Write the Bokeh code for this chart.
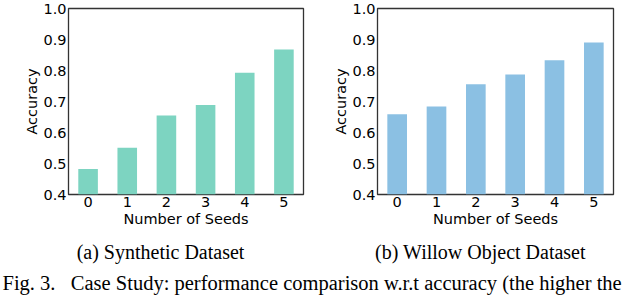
from bokeh.plotting import figure
from bokeh.models import FixedTicker, Range1d, CustomJSTickFormatter, Label
from bokeh.layouts import column, row
from bokeh.embed import file_html
from bokeh.resources import INLINE

seeds = [0, 1, 2, 3, 4, 5]
synthetic_acc = [0.482, 0.551, 0.655, 0.689, 0.793, 0.868]
willow_acc = [0.659, 0.684, 0.756, 0.787, 0.833, 0.890]
y_ticks = [0.4, 0.5, 0.6, 0.7, 0.8, 0.9, 1.0]
x_label = "Number of Seeds"
y_label = "Accuracy"
captions = ["(a) Synthetic Dataset", "(b) Willow Object Dataset"]
fig_caption = "Fig. 3.\u00a0\u00a0 Case Study: performance comparison w.r.t accuracy (the higher the"


def make(vals, color, bl, br):
    p = figure(width=320, height=230, x_range=Range1d(-0.5, 5.5), y_range=Range1d(0.4, 1.0),
               output_backend="svg", toolbar_location=None, title_location=None,
               min_border_left=bl, min_border_right=br, min_border_top=8, min_border_bottom=36)
    p.vbar(x=seeds, top=vals, bottom=0.4, width=0.5, fill_color=color, line_color=None)
    p.xgrid.visible = False
    p.ygrid.visible = False
    p.outline_line_color = "#333333"
    p.outline_line_width = 1.3
    p.outline_line_alpha = 1.0
    p.background_fill_color = "white"
    p.border_fill_color = "white"
    for ax in (p.xaxis[0], p.yaxis[0]):
        ax.axis_line_color = None
        ax.major_tick_out = 0
        ax.major_tick_in = 0
        ax.minor_tick_out = 0
        ax.minor_tick_in = 0
        ax.major_label_text_font = "DejaVu Sans"
        ax.major_label_text_font_size = "14.5px"
        ax.major_label_text_color = "black"
        ax.axis_label_text_font = "DejaVu Sans"
        ax.axis_label_text_font_size = "14.5px"
        ax.axis_label_text_font_style = "normal"
        ax.axis_label_text_color = "black"
        ax.major_label_standoff = 2
        ax.axis_label_standoff = 1
    p.yaxis[0].axis_label_standoff = 0
    p.xaxis[0].ticker = FixedTicker(ticks=seeds)
    p.yaxis[0].ticker = FixedTicker(ticks=y_ticks)
    p.yaxis[0].formatter = CustomJSTickFormatter(code="return tick.toFixed(1);")
    p.xaxis[0].axis_label = x_label
    p.yaxis[0].axis_label = y_label
    return p


p1 = make(synthetic_acc, "#7dd4c1", 68, 17)
p2 = make(willow_acc, "#8bc0e3", 57, 27)

# caption strip below the two panels; coordinates in pixels of the strip
cap = figure(width=640, height=65, x_range=Range1d(0, 640), y_range=Range1d(0, 65),
             output_backend="svg", toolbar_location=None, title_location=None,
             min_border=0, min_border_left=0, min_border_right=0, min_border_top=0, min_border_bottom=0)
cap.axis.visible = False
cap.grid.visible = False
cap.outline_line_color = None
cap.background_fill_color = "white"
cap.border_fill_color = "white"
serif = "Liberation Serif"
for cx, txt in zip([160, 480], captions):
    cap.add_layout(Label(x=cx, y=44, text=txt, text_align="center", text_baseline="alphabetic",
                         text_font=serif, text_font_size="20px", text_color="black"))
cap.add_layout(Label(x=2, y=13, text=fig_caption, text_align="left", text_baseline="alphabetic",
                     text_font=serif, text_font_size="20.5px", text_color="black"))

layout = column(row(p1, p2, spacing=0), cap, spacing=0)

open("out.html", "w").write(file_html(layout, INLINE))
